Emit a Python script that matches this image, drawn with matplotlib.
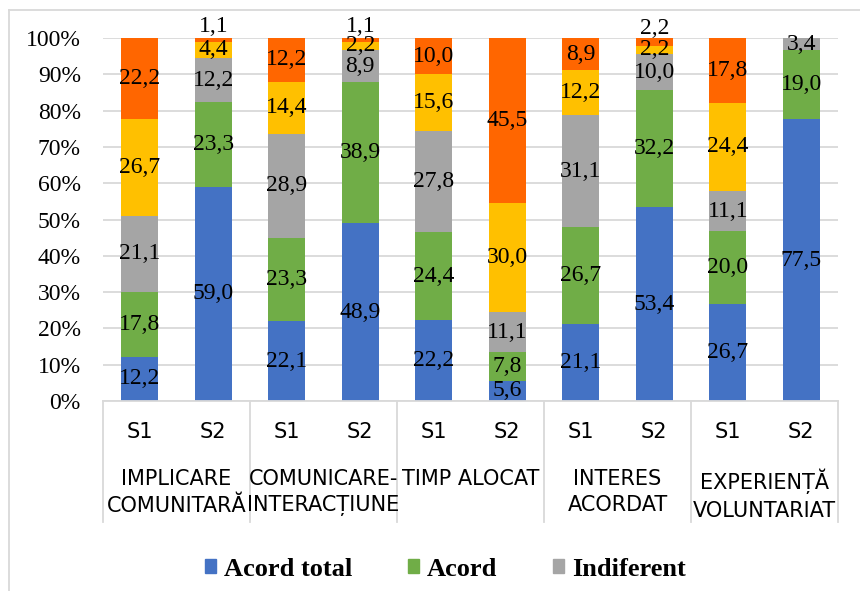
import numpy as np
import matplotlib.pyplot as plt
from matplotlib.lines import Line2D
from matplotlib.patches import Patch

# data (percentages, labels keep raw values)
groups = ['IMPLICARE\nCOMUNITARĂ', 'COMUNICARE-\nINTERACȚIUNE', 'TIMP ALOCAT',
          'INTERES\nACORDAT', 'EXPERIENȚĂ\nVOLUNTARIAT']
sessions = ['S1', 'S2']
series_names = ['Acord total', 'Acord', 'Indiferent', 'Dezacord', 'Dezacord total']
acord_total = [12.2, 59.0, 22.1, 48.9, 22.2, 5.6, 21.1, 53.4, 26.7, 77.5]
acord = [17.8, 23.3, 23.3, 38.9, 24.4, 7.8, 26.7, 32.2, 20.0, 19.0]
indiferent = [21.1, 12.2, 28.9, 8.9, 27.8, 11.1, 31.1, 10.0, 11.1, 3.4]
dezacord = [26.7, 4.4, 14.4, 2.2, 15.6, 30.0, 12.2, 2.2, 24.4, 0.0]
dezacord_total = [22.2, 1.1, 12.2, 1.1, 10.0, 45.5, 8.9, 2.2, 17.8, 0.0]
colors = ['#4472C4', '#70AD47', '#A5A5A5', '#FFC000', '#FF6600']

serif = 'Liberation Serif'
sans = ['Liberation Sans Narrow', 'DejaVu Sans']

values = np.array([acord_total, acord, indiferent, dezacord, dezacord_total])
shares = values / values.sum(axis=0) * 100
n = values.shape[1]
x = np.arange(n)

fig = plt.figure(figsize=(8.6, 5.91), dpi=100)
ax = fig.add_axes([103 / 860, 1 - 401 / 591, 735 / 860, 363 / 591])

bottom = np.zeros(n)
for i in range(len(series_names)):
    ax.bar(x, shares[i], 0.5, bottom=bottom, color=colors[i], zorder=2)
    for j in range(n):
        v = values[i, j]
        if v <= 0:
            continue
        yc = bottom[j] + shares[i, j] / 2
        if i == len(series_names) - 1 and shares[i, j] < 3:
            yc += 3.8  # small top slices: label nudged above the bar
        ax.text(x[j], yc, f'{v:.1f}'.replace('.', ','), ha='center', va='center',
                fontsize=17, family=serif, color='black', zorder=3)
    bottom += shares[i]

ax.set_xlim(-0.5, n - 0.5)
ax.set_ylim(0, 100)
ax.set_yticks(np.arange(0, 101, 10))
ax.set_yticklabels([f'{t}%' for t in range(0, 101, 10)], family=serif, fontsize=17)
ax.tick_params(axis='y', length=0, pad=16)
ax.tick_params(axis='x', length=0, labelbottom=False)
ax.grid(axis='y', color='#D9D9D9', linewidth=1.3, zorder=0)
for s in ['top', 'right', 'left']:
    ax.spines[s].set_visible(False)
ax.spines['bottom'].set_color('#D9D9D9')
ax.spines['bottom'].set_linewidth(1.3)

# two-level category axis
trans = ax.get_xaxis_transform()
for j in range(n):
    ax.text(x[j], -0.085, sessions[j % 2], transform=trans, ha='center', va='center',
            fontsize=15, family=sans)
for g, name in enumerate(groups):
    ax.text(2 * g + 0.5, -0.186, name, transform=trans, ha='center', va='top',
            fontsize=15, family=sans, linespacing=1.42)
for b in np.arange(-0.5, n, 2):
    ax.plot([b, b], [0, -0.333], transform=trans, color='#D9D9D9', lw=1.3, clip_on=False)

handles = [Patch(color=colors[i], label=series_names[i]) for i in range(3)]
fig.legend(handles=handles, loc='center', bbox_to_anchor=(0.518, 1 - 569 / 591), ncol=3,
           frameon=False, prop={'family': serif, 'weight': 'bold', 'size': 19},
           handlelength=0.42, handleheight=0.42, handletextpad=0.3, columnspacing=2.1)

# chart border (right and bottom edges fall outside the crop)
fig.add_artist(Line2D([9 / 860, 1], [1 - 10 / 591] * 2, color='#D9D9D9', lw=1.3))
fig.add_artist(Line2D([9 / 860] * 2, [0, 1 - 10 / 591], color='#D9D9D9', lw=1.3))

fig.savefig('out.png', dpi=100)
